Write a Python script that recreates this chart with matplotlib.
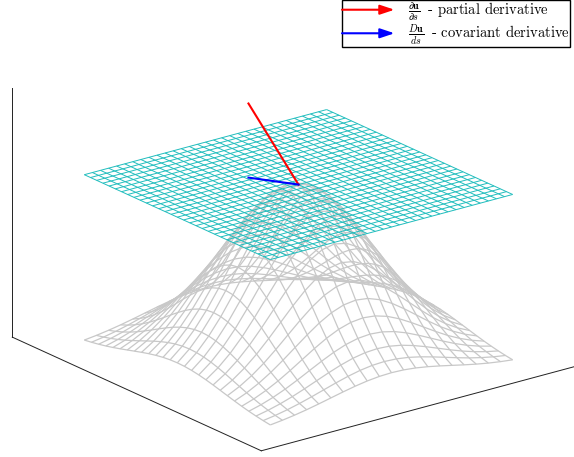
#!/usr/bin/python3
# tangent plane on a bump, partial vs covariant derivative
import numpy as np
import matplotlib
matplotlib.use("Agg")
import matplotlib.pyplot as plt
from matplotlib.patches import FancyArrowPatch
from matplotlib.legend_handler import HandlerPatch

# half of the bump profile, centre to edge
half_profile_x = [1.0, 0.988, 0.954, 0.899, 0.828, 0.744, 0.653,
                  0.560, 0.469, 0.383, 0.306, 0.239, 0.182, 0.135]
half_profile_y = [1.0, 0.980, 0.923, 0.835, 0.726, 0.607, 0.487, 0.375, 0.278, 0.198, 0.135]
grid_edge = 2.0
plane_height = 1.0
plane_cells = 30

peak = [0.0, 0.0, 1.0]
partial_tip = [-0.605, -0.361, 1.44]
covariant_tip = [-0.605, -0.361, 1.0]

x_limits = [-2.632, 2.724]
y_limits = [-2.704, 2.704]
z_limits = [0.024, 1.503]

partial_label = r"$\,\frac{\partial \mathbf{u}}{\partial s}\,$ - partial derivative"
covariant_label = r"$\,\frac{D\mathbf{u}}{ds}\,$ - covariant derivative"

plt.rcParams["font.family"] = "cmr10"
plt.rcParams["mathtext.fontset"] = "cm"
plt.rcParams["axes.unicode_minus"] = False


class HandlerArrow(HandlerPatch):
    def create_artists(self, legend, orig_handle, xdescent, ydescent, width, height, fontsize, trans):
        arrow = FancyArrowPatch((-xdescent, height / 2), (width - xdescent, height / 2),
                                arrowstyle="-|>,head_length=0.66,head_width=0.22", mutation_scale=13, lw=1.5,
                                color=orig_handle.get_edgecolor(), shrinkA=0, shrinkB=0)
        arrow.set_transform(trans)
        return [arrow]


def main():
    profile_x = np.array(half_profile_x[:0:-1] + half_profile_x)
    profile_y = np.array(half_profile_y[:0:-1] + half_profile_y)
    grid_x = np.linspace(-grid_edge, grid_edge, len(profile_x))
    grid_y = np.linspace(-grid_edge, grid_edge, len(profile_y))
    xx, yy = np.meshgrid(grid_x, grid_y)
    zz = np.outer(profile_y, profile_x)

    plane_grid = np.linspace(-grid_edge, grid_edge, plane_cells + 1)
    px, py = np.meshgrid(plane_grid, plane_grid)

    fig = plt.figure(figsize=(5.74, 4.57), dpi=100)
    side = 637.3
    centre_x, centre_y = 292, 234
    ax = fig.add_axes([(centre_x - side / 2) / 574, (457 - centre_y - side / 2) / 457, side / 574, side / 457],
                      projection="3d", proj_type="ortho", computed_zorder=False)
    ax.patch.set_alpha(0)
    ax.set_xlim(x_limits, view_margin=0)
    ax.set_ylim(y_limits, view_margin=0)
    ax.set_zlim(z_limits, view_margin=0)
    ax.set_box_aspect((408.7, 412.6, 265.7), zoom=0.9737)
    ax.view_init(elev=20.5, azim=-37.5)
    ax.set_axis_off()

    # the three box edges that show
    ax.plot([x_limits[0], x_limits[0]], [y_limits[0], y_limits[0]], z_limits, color="#222222", lw=0.7, zorder=1)
    ax.plot(x_limits, [y_limits[0], y_limits[0]], [z_limits[0], z_limits[0]], color="#222222", lw=0.7, zorder=1)
    ax.plot([x_limits[1], x_limits[1]], y_limits, [z_limits[0], z_limits[0]], color="#222222", lw=0.7, zorder=1)

    ax.plot_wireframe(xx, yy, zz, rstride=1, cstride=1, color="#c8c8c8", lw=0.9, zorder=2)
    ax.plot_wireframe(px, py, np.full_like(px, plane_height), rstride=1, cstride=1, color="#20bdbd", lw=0.7, zorder=3)

    ax.plot([peak[0], partial_tip[0]], [peak[1], partial_tip[1]], [peak[2], partial_tip[2]], color="red", lw=1.5, zorder=4)
    ax.plot([peak[0], covariant_tip[0]], [peak[1], covariant_tip[1]], [peak[2], covariant_tip[2]], color="blue", lw=1.5, zorder=5)

    red_key = FancyArrowPatch((0, 0), (1, 0), color="red")
    blue_key = FancyArrowPatch((0, 0), (1, 0), color="blue")
    fig.legend([red_key, blue_key], [partial_label, covariant_label],
               handler_map={FancyArrowPatch: HandlerArrow()},
               loc="upper right", bbox_to_anchor=(570 / 574, 1.0),
               fontsize=10.5, fancybox=False, framealpha=1, edgecolor="black",
               borderpad=0.0, labelspacing=0.0, handlelength=3.6, handletextpad=0.8,
               borderaxespad=0)

    fig.savefig("out.png", dpi=100)


if __name__ == "__main__":
    main()
